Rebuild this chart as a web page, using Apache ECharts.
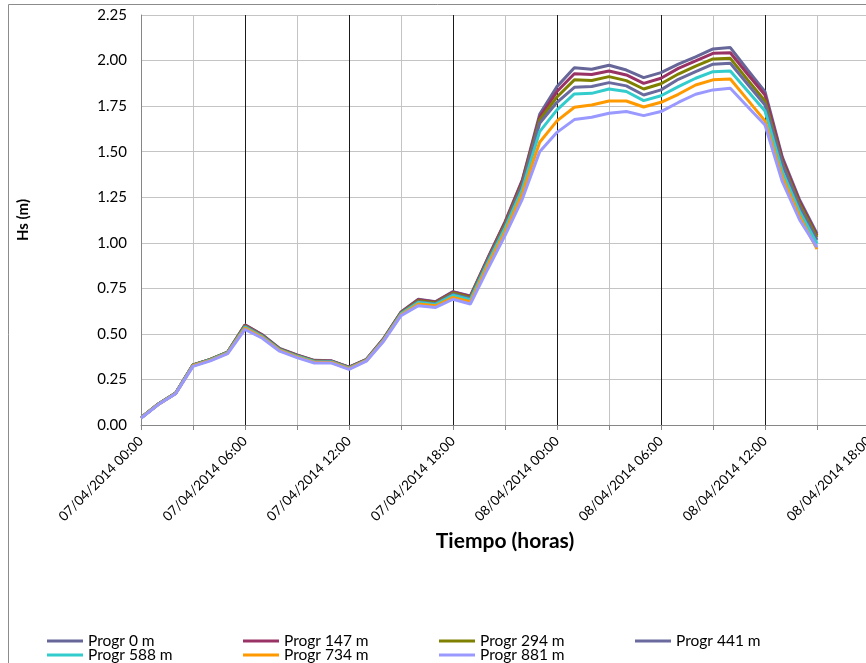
<!DOCTYPE html>
<html>
<head>
<meta charset="utf-8">
<script src="https://cdn.jsdelivr.net/npm/echarts@6/dist/echarts.min.js"></script>
<style>html,body{margin:0;padding:0;background:#fff}#c{width:866px;height:663px}</style>
</head>
<body>
<div id="c"></div>
<script>
// hours since 07/04/2014 00:00
const hours = [0,1,2,3,4,5,6,7,8,9,10,11,12,13,14,15,16,17,18,19,20,21,22,23,24,25,26,27,28,29,30,31,32,33,34,35,36,37,38,39];
const tickLabels = ['07/04/2014 00:00','07/04/2014 06:00','07/04/2014 12:00','07/04/2014 18:00','08/04/2014 00:00','08/04/2014 06:00','08/04/2014 12:00','08/04/2014 18:00'];
const yTicks = [0,0.25,0.5,0.75,1,1.25,1.5,1.75,2,2.25];
const seriesNames = ['Progr 0 m','Progr 147 m','Progr 294 m','Progr 441 m','Progr 588 m','Progr 734 m','Progr 881 m'];
const p0   = [0.04,0.115,0.175,0.33,0.36,0.40,0.55,0.495,0.42,0.385,0.355,0.352,0.318,0.36,0.475,0.62,0.69,0.677,0.732,0.708,0.915,1.115,1.345,1.705,1.857,1.961,1.952,1.974,1.948,1.906,1.934,1.98,2.02,2.064,2.071,1.948,1.829,1.47,1.235,1.05];
const p147 = [0.04,0.115,0.175,0.33,0.36,0.40,0.548,0.493,0.418,0.383,0.353,0.351,0.317,0.359,0.473,0.618,0.687,0.675,0.73,0.705,0.912,1.11,1.34,1.69,1.83,1.928,1.923,1.943,1.921,1.875,1.903,1.957,1.998,2.04,2.043,1.925,1.811,1.46,1.225,1.04];
const p294 = [0.04,0.115,0.175,0.33,0.36,0.40,0.545,0.49,0.416,0.381,0.351,0.349,0.315,0.357,0.471,0.615,0.682,0.671,0.724,0.70,0.905,1.10,1.325,1.674,1.80,1.894,1.891,1.912,1.89,1.844,1.873,1.926,1.97,2.009,2.012,1.894,1.778,1.44,1.21,1.03];
const p441 = [0.04,0.114,0.174,0.328,0.358,0.398,0.542,0.488,0.414,0.379,0.349,0.347,0.314,0.356,0.469,0.612,0.677,0.666,0.718,0.694,0.90,1.09,1.315,1.656,1.771,1.853,1.858,1.879,1.861,1.811,1.839,1.897,1.939,1.98,1.985,1.87,1.756,1.43,1.195,1.015];
const p588 = [0.04,0.114,0.174,0.327,0.357,0.397,0.538,0.485,0.412,0.377,0.347,0.346,0.312,0.355,0.467,0.61,0.672,0.662,0.712,0.688,0.89,1.08,1.295,1.61,1.729,1.817,1.82,1.844,1.83,1.78,1.807,1.857,1.903,1.939,1.943,1.833,1.723,1.39,1.17,0.995];
const p734 = [0.039,0.113,0.173,0.325,0.355,0.395,0.532,0.481,0.409,0.374,0.344,0.343,0.309,0.353,0.464,0.605,0.664,0.654,0.70,0.676,0.875,1.06,1.27,1.552,1.669,1.744,1.756,1.778,1.778,1.745,1.771,1.815,1.866,1.894,1.899,1.784,1.669,1.36,1.145,0.965];
const p881 = [0.037,0.112,0.172,0.322,0.352,0.392,0.525,0.476,0.405,0.37,0.34,0.34,0.305,0.35,0.46,0.60,0.655,0.645,0.69,0.664,0.855,1.04,1.24,1.50,1.606,1.676,1.689,1.711,1.72,1.698,1.72,1.77,1.815,1.839,1.848,1.747,1.646,1.335,1.125,0.975];
const allValues = [p0,p147,p294,p441,p588,p734,p881];
const colors = ['#666699','#993366','#808000','#6A6A9E','#33CCCC','#FF9900','#9999FF'];

const FONT = 'Lato';
const chart = echarts.init(document.getElementById('c'), null, {renderer:'canvas'});
const legendBase = {
  orient:'horizontal', icon:'rect', itemWidth:36, itemHeight:3, itemGap:5, padding:0,
  textStyle:{fontFamily:FONT, fontSize:15.5, color:'#000', width:150, lineHeight:14},
  selectedMode:false
};
chart.setOption({
  animation:false,
  backgroundColor:'#fff',
  color: colors,
  graphic:[{type:'rect', shape:{x:8.5,y:4.5,width:900,height:700}, style:{fill:'none', stroke:'#8c8c8c', lineWidth:1}, silent:true, z:-1}],
  grid:{left:141, top:15, right:-3, bottom:238, outerBoundsMode:'none', containLabel:false},
  legend:[
    Object.assign({}, legendBase, {left:47, top:633, data:seriesNames.slice(0,4)}),
    Object.assign({}, legendBase, {left:47, top:647, data:seriesNames.slice(4)})
  ],
  xAxis:[{
    type:'value', min:0, max:42, interval:3,
    name:'Tiempo (horas)', nameLocation:'middle', nameGap:106,
    nameTextStyle:{fontFamily:FONT, fontSize:21, fontWeight:'bold', color:'#000'},
    axisLine:{show:true, lineStyle:{color:'#868686', width:1}},
    axisTick:{show:true, length:5, lineStyle:{color:'#868686'}},
    axisLabel:{show:true, rotate:45, margin:14, fontFamily:FONT, fontSize:13.5, color:'#000',
      showMinLabel:true, showMaxLabel:true,
      formatter:function(v){ return (v % 6 === 0) ? tickLabels[v/6] : ''; }},
    splitLine:{show:true, lineStyle:{color:'#c4c4c4', width:1}}
  },{
    type:'value', min:0, max:42, interval:6, position:'bottom',
    axisLine:{show:false}, axisTick:{show:false}, axisLabel:{show:false},
    splitLine:{show:true, showMinLine:false, showMaxLine:false, lineStyle:{color:'#1a1a1a', width:1}}
  }],
  yAxis:{
    type:'value', min:yTicks[0], max:yTicks[yTicks.length-1], interval:0.25,
    name:'Hs (m)', nameLocation:'middle', nameGap:110, nameRotate:90,
    nameTextStyle:{fontFamily:FONT, fontSize:15, fontWeight:'bold', color:'#000'},
    axisLine:{show:true, lineStyle:{color:'#868686', width:1}},
    axisTick:{show:false},
    axisLabel:{margin:14, fontFamily:FONT, fontSize:15, color:'#000', formatter:function(v){return v.toFixed(2);}},
    splitLine:{show:true, lineStyle:{color:'#c4c4c4', width:1}}
  },
  series: seriesNames.map(function(n,i){
    return {
      name:n, type:'line', xAxisIndex:0, showSymbol:false, symbol:'none', smooth:false,
      lineStyle:{width:3, color:colors[i]}, itemStyle:{color:colors[i]},
      data: hours.map(function(h,j){ return [h, allValues[i][j]]; })
    };
  })
});
</script>
</body>
</html>
